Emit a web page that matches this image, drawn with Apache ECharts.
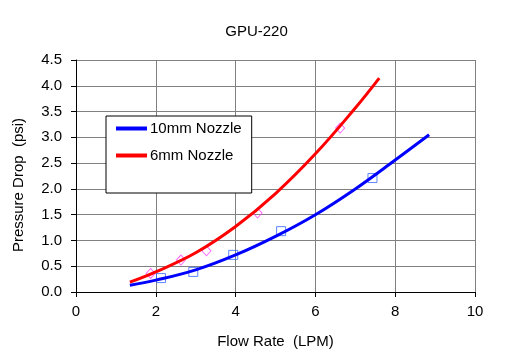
<!DOCTYPE html>
<html><head><meta charset="utf-8">
<script src="https://cdn.jsdelivr.net/npm/echarts@6/dist/echarts.min.js"></script>
<style>html,body{margin:0;padding:0;background:#fff}#c{width:513px;height:359px}</style>
</head><body><div id="c"></div>
<script>
// Fitted curve
const curve10X = [1.35, 2, 3, 4, 5, 6, 7, 8, 8.85];
const curve10Y = [0.13, 0.23, 0.43, 0.72, 1.08, 1.50, 2.00, 2.56, 3.05];
const curve6X = [1.35, 2, 3, 4, 5, 6, 7, 7.6];
const curve6Y = [0.19, 0.39, 0.76, 1.27, 1.91, 2.68, 3.57, 4.15];
// Measured points
const meas10X = [2.13, 2.94, 3.94, 5.14, 7.43];
const meas10Y = [0.27, 0.39, 0.72, 1.18, 2.21];
const meas6X = [1.87, 2.63, 3.27, 4.55, 6.62];
const meas6Y = [0.36, 0.62, 0.80, 1.53, 3.18];
const xTicks = [0, 2, 4, 6, 8, 10];
const yTicks = [0, 0.5, 1, 1.5, 2, 2.5, 3, 3.5, 4, 4.5];

const zip = (a, b) => a.map((v, i) => [v, b[i]]);
const font = '"Liberation Sans", Arial, sans-serif';
const chart = echarts.init(document.getElementById('c'), null, {renderer: 'canvas'});
chart.setOption({
  animation: false,
  backgroundColor: '#fff',
  title: {text: 'GPU-220', left: 'center', top: 19, textStyle: {fontFamily: font, fontSize: 15, fontWeight: 'normal', color: '#000'}},
  grid: {left: 76, right: 38, top: 60, bottom: 67},
  legend: {
    orient: 'vertical', left: 106, top: 116, width: 144,
    padding: [5, 10, 30, 10], itemGap: 12,
    borderColor: '#000', borderWidth: 1, backgroundColor: '#fff',
    itemWidth: 31, itemHeight: 4, icon: 'rect',
    data: ['10mm Nozzle', '6mm Nozzle'],
    textStyle: {fontFamily: font, fontSize: 15, color: '#000', padding: [0, 0, 0, -2]}
  },
  xAxis: {
    type: 'value', min: xTicks[0], max: xTicks[xTicks.length - 1], interval: 2,
    name: 'Flow Rate  (LPM)', nameLocation: 'middle', nameGap: 42,
    nameTextStyle: {fontFamily: font, fontSize: 15, color: '#000'},
    axisLine: {lineStyle: {color: '#000', width: 1}},
    axisTick: {show: true, length: 5, lineStyle: {color: '#000'}},
    axisLabel: {fontFamily: font, fontSize: 15, color: '#000', margin: 12},
    splitLine: {show: true, lineStyle: {color: '#808080', width: 1}}
  },
  yAxis: {
    type: 'value', min: yTicks[0], max: yTicks[yTicks.length - 1], interval: 0.5,
    name: 'Pressure Drop  (psi)', nameLocation: 'middle', nameGap: 50,
    nameTextStyle: {fontFamily: font, fontSize: 15, color: '#000', padding: [0, 0, 0, -18]},
    axisLine: {show: true, lineStyle: {color: '#000', width: 1}},
    axisTick: {show: true, length: 5, lineStyle: {color: '#000'}},
    axisLabel: {fontFamily: font, fontSize: 15, color: '#000', margin: 14, formatter: v => v.toFixed(1)},
    splitLine: {show: true, lineStyle: {color: '#808080', width: 1}}
  },
  series: [
    {name: 'm10', type: 'scatter', data: zip(meas10X, meas10Y), symbol: 'rect', symbolSize: 9,
     itemStyle: {color: 'transparent', borderColor: '#3366ff', borderWidth: 1}, z: 1},
    {name: 'm6', type: 'scatter', data: zip(meas6X, meas6Y), symbol: 'diamond', symbolSize: [9, 10],
     itemStyle: {color: 'transparent', borderColor: '#ff44ff', borderWidth: 1}, z: 1},
    {name: '10mm Nozzle', type: 'line', data: zip(curve10X, curve10Y), smooth: 0.4, showSymbol: false,
     symbol: 'none', lineStyle: {color: '#0000ff', width: 3}, itemStyle: {color: '#0000ff'}, z: 3},
    {name: '6mm Nozzle', type: 'line', data: zip(curve6X, curve6Y), smooth: 0.4, showSymbol: false,
     symbol: 'none', lineStyle: {color: '#ff0000', width: 3}, itemStyle: {color: '#ff0000'}, z: 3}
  ]
});
</script></body></html>
